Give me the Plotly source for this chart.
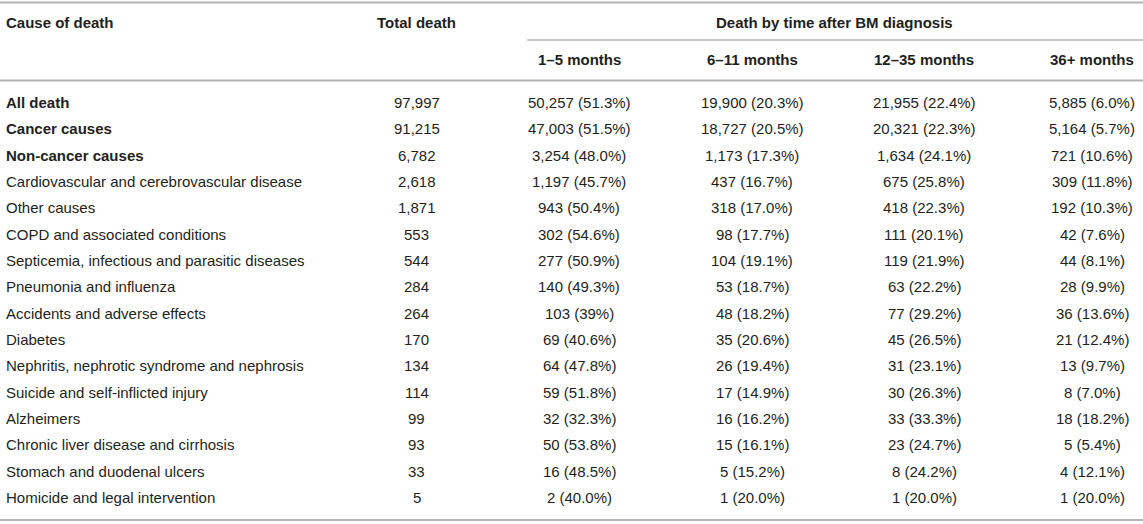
import plotly.graph_objects as go

# ---------------- data ----------------
causes = [
    "All death", "Cancer causes", "Non-cancer causes",
    "Cardiovascular and cerebrovascular disease", "Other causes",
    "COPD and associated conditions", "Septicemia, infectious and parasitic diseases",
    "Pneumonia and influenza", "Accidents and adverse effects", "Diabetes",
    "Nephritis, nephrotic syndrome and nephrosis", "Suicide and self-inflicted injury",
    "Alzheimers", "Chronic liver disease and cirrhosis", "Stomach and duodenal ulcers",
    "Homicide and legal intervention",
]
bold_rows = ["All death", "Cancer causes", "Non-cancer causes"]
total_death = [97997, 91215, 6782, 2618, 1871, 553, 544, 284, 264, 170, 134, 114, 99, 93, 33, 5]

period_labels = ["1\u20135 months", "6\u201311 months", "12\u201335 months", "36+ months"]
n_1_5 = [50257, 47003, 3254, 1197, 943, 302, 277, 140, 103, 69, 64, 59, 32, 50, 16, 2]
p_1_5 = ["51.3", "51.5", "48.0", "45.7", "50.4", "54.6", "50.9", "49.3", "39", "40.6", "47.8", "51.8", "32.3", "53.8", "48.5", "40.0"]
n_6_11 = [19900, 18727, 1173, 437, 318, 98, 104, 53, 48, 35, 26, 17, 16, 15, 5, 1]
p_6_11 = ["20.3", "20.5", "17.3", "16.7", "17.0", "17.7", "19.1", "18.7", "18.2", "20.6", "19.4", "14.9", "16.2", "16.1", "15.2", "20.0"]
n_12_35 = [21955, 20321, 1634, 675, 418, 111, 119, 63, 77, 45, 31, 30, 33, 23, 8, 1]
p_12_35 = ["22.4", "22.3", "24.1", "25.8", "22.3", "20.1", "21.9", "22.2", "29.2", "26.5", "23.1", "26.3", "33.3", "24.7", "24.2", "20.0"]
n_36p = [5885, 5164, 721, 309, 192, 42, 44, 28, 36, 21, 13, 8, 18, 5, 4, 1]
p_36p = ["6.0", "5.7", "10.6", "11.8", "10.3", "7.6", "8.1", "9.9", "13.6", "12.4", "9.7", "7.0", "18.2", "5.4", "12.1", "20.0"]

header_cause = "Cause of death"
header_total = "Total death"
header_span = "Death by time after BM diagnosis"

# ---------------- layout constants ----------------
W, H = 1143, 524
FONT = "Liberation Sans, Arial, Helvetica, sans-serif"
FS = 15
TXT = "#231f20"
LINE = "#b4b4b4"
X_CAUSE = 4
X_TOTAL = 416.5
X_PERIODS = [579, 752, 924, 1092]
X_SPAN = 834
Y_H1, Y_H2 = 22, 59
ROW0, ROW_H = 102.5, 26.33

periods = [(n_1_5, p_1_5), (n_6_11, p_6_11), (n_12_35, p_12_35), (n_36p, p_36p)]

ann = []
def add(text, x, y, xanchor="center", bold=False):
    ann.append(dict(text=(f"<b>{text}</b>" if bold else text), x=x, y=y, xref="x", yref="y",
                    xanchor=xanchor, yanchor="middle", showarrow=False,
                    font=dict(family=FONT, size=FS, color=TXT)))

# headers
add(header_cause, X_CAUSE, Y_H1, "left", True)
add(header_total, X_TOTAL, Y_H1, "center", True)
add(header_span, X_SPAN, Y_H1, "center", True)
for lab, xp in zip(period_labels, X_PERIODS):
    add(lab, xp, Y_H2, "center", True)

# body
for i, cause in enumerate(causes):
    y = ROW0 + i * ROW_H
    add(cause, X_CAUSE, y, "left", cause in bold_rows)
    add(f"{total_death[i]:,}", X_TOTAL, y)
    for (ns, ps), xp in zip(periods, X_PERIODS):
        add(f"{ns[i]:,} ({ps[i]}%)", xp, y)

shapes = [
    dict(type="line", xref="x", yref="y", x0=0, x1=W, y0=2.5, y1=2.5, line=dict(color=LINE, width=2)),
    dict(type="line", xref="x", yref="y", x0=527, x1=W, y0=40, y1=40, line=dict(color=LINE, width=1.5)),
    dict(type="line", xref="x", yref="y", x0=0, x1=W, y0=80.5, y1=80.5, line=dict(color=LINE, width=2)),
    dict(type="line", xref="x", yref="y", x0=0, x1=W, y0=520, y1=520, line=dict(color=LINE, width=2)),
]

fig = go.Figure()
fig.update_layout(
    width=W, height=H,
    margin=dict(l=0, r=0, t=0, b=0),
    paper_bgcolor="white", plot_bgcolor="white",
    xaxis=dict(range=[0, W], visible=False, fixedrange=True),
    yaxis=dict(range=[H, 0], visible=False, fixedrange=True),
    annotations=ann, shapes=shapes, showlegend=False,
)
fig.write_html("out.html", config={"displayModeBar": False},
               post_script="document.body.style.margin='0';document.body.style.overflow='hidden';")
